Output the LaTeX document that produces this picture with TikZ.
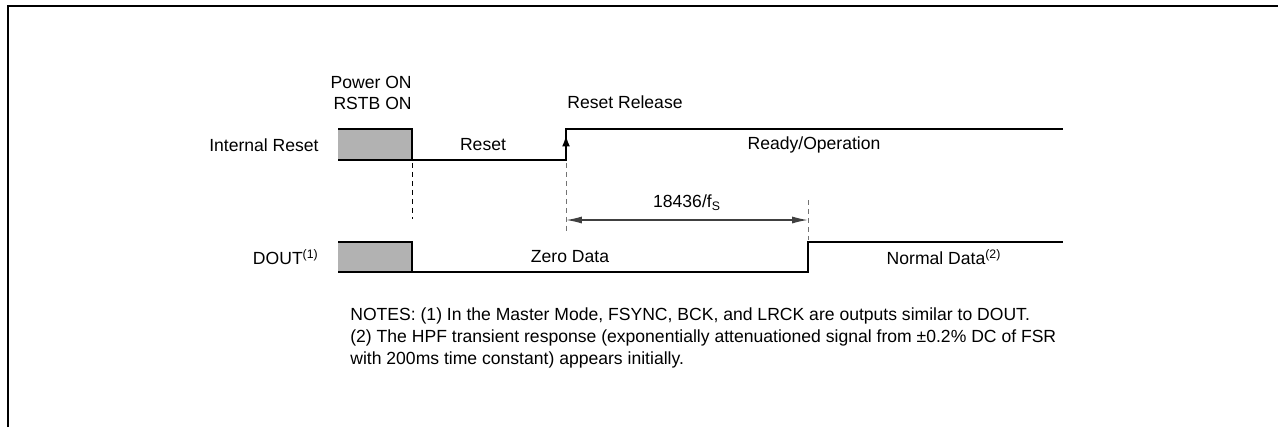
\documentclass[tikz,border=0pt]{standalone}
\usepackage{fontspec}
\setmainfont{Liberation Sans}
\usetikzlibrary{arrows.meta}
\begin{document}
\begin{tikzpicture}[line join=miter,>={Latex[length=9pt,width=4pt]},x=0.02cm,y=-0.02cm,
		sig/.style={line width=1.2pt},
		guide/.style={dash pattern=on 2.8pt off 2.3pt,line width=0.5pt},
		lbl/.style={inner sep=0pt}]
		\useasboundingbox (0,0) rectangle (1278,427);
		% frame
		\coordinate (F1) at (8,427);
		\coordinate (F2) at (8,6);
		\coordinate (F3) at (1278,6);
		\draw[line width=1.4pt] (F1) -- (F2) -- (F3);
		% internal reset
		\coordinate (R1) at (338,129);
		\coordinate (R2) at (412,129);
		\coordinate (R3) at (412,160);
		\coordinate (R4) at (338,160);
		\coordinate (R5) at (566,160);
		\coordinate (R6) at (566,129);
		\coordinate (R7) at (1063,129);
		\coordinate (RA) at (566,135);
		\fill[gray!60] (R4) rectangle (R2);
		\draw[sig] (R1) -- (R2) -- (R3);
		\draw[sig] (R4) -- (R5) -- (R6) -- (R7);
		\draw[sig,-{Latex[length=6.5pt,width=4.5pt]}] (R5) -- (RA);
		% dout
		\coordinate (D1) at (338,242);
		\coordinate (D2) at (412,242);
		\coordinate (D3) at (412,272);
		\coordinate (D4) at (338,272);
		\coordinate (D5) at (808,272);
		\coordinate (D6) at (808,242);
		\coordinate (D7) at (1063,242);
		\fill[gray!60] (D4) rectangle (D2);
		\draw[sig] (D1) -- (D2) -- (D3);
		\draw[sig] (D4) -- (D5) -- (D6) -- (D7);
		% timing guides
		\coordinate (G1) at (412,163);
		\coordinate (G2) at (412,219);
		\coordinate (G3) at (566,163);
		\coordinate (G4) at (566,234);
		\coordinate (G5) at (808,200);
		\coordinate (G6) at (808,240);
		\coordinate (T1) at (566,220);
		\coordinate (T2) at (808,220);
		\draw[guide] (G1) -- (G2);
		\draw[guide,black!55] (G3) -- (G4) (G5) -- (G6);
		\draw[<->,line width=0.8pt,black!75] (T1) -- (T2);
		% labels
		\node[lbl,anchor=east,align=right] (pwr) at (412,92.5) {Power ON\\RSTB ON};
		\node[lbl,anchor=west] (rel) at (567,102) {Reset Release};
		\node[lbl,anchor=east] (irst) at (319,145) {Internal Reset};
		\node[lbl] (rst) at (483,145) {Reset};
		\node[lbl] (rdy) at (814,145) {Ready/Operation};
		\node[lbl] (dly) at (687,203) {18436/f\textsubscript{S}};
		\node[lbl,anchor=east] (dout) at (319,257) {DOUT\textsuperscript{(1)}};
		\node[lbl] (zero) at (570,257) {Zero Data};
		\node[lbl] (norm) at (944,257) {Normal Data\textsuperscript{(2)}};
		\node[lbl,anchor=north west,align=left,font=\fontsize{10}{12.5}\selectfont] (notes) at (350,307)
			{NOTES: (1) In the Master Mode, FSYNC, BCK, and LRCK are outputs similar to DOUT.\\
			(2) The HPF transient response (exponentially attenuationed signal from ±0.2\% DC of FSR\\
			with 200ms time constant) appears initially.};
	\end{tikzpicture}
\end{document}
